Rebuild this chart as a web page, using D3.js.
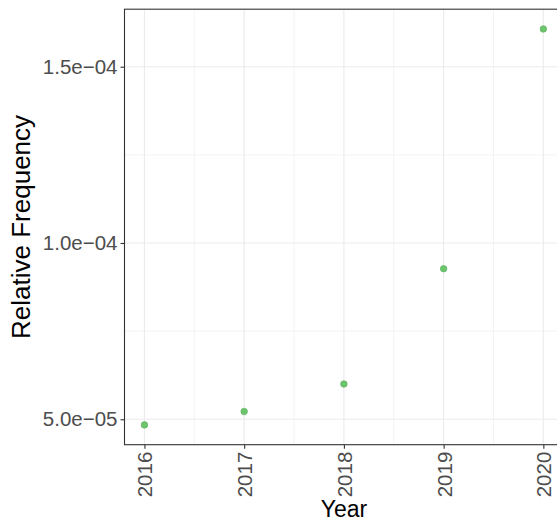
<!DOCTYPE html>
<html>
<head>
<meta charset="utf-8">
<script src="https://cdn.jsdelivr.net/npm/d3@7"></script>
<style>
  html, body { margin: 0; padding: 0; background: #fff; overflow: hidden; }
  svg { display: block; font-family: "Liberation Sans", Arial, sans-serif; }
</style>
</head>
<body>
<svg id="chart" width="557" height="522"></svg>
<script>
// Yearly relative frequency
const years = [2016, 2017, 2018, 2019, 2020];
const freq = [4.84e-5, 5.22e-5, 6.0e-5, 9.27e-5, 1.607e-4];
const yTicks = [5e-5, 1e-4, 1.5e-4];
const yMinor = [7.5e-5, 1.25e-4];
const xMinor = [2016.5, 2017.5, 2018.5, 2019.5];

const svg = d3.select("#chart");
const panel = { left: 124.5, top: 9.2, right: 563.3, bottom: 444.7 };

// ggplot-style expansion of the data range
const xPad = 0.2;
const x = d3.scaleLinear()
  .domain([d3.min(years) - xPad, d3.max(years) + xPad])
  .range([panel.left, panel.right]);
const [ymin, ymax] = d3.extent(freq);
const yPad = (ymax - ymin) * 0.05;
const y = d3.scaleLinear()
  .domain([ymin - yPad, ymax + yPad])
  .range([panel.bottom, panel.top]);

const fmt = v => v.toExponential(1).replace(/e([+-])(\d)$/, "e$10$2").replace("-", "\u2212");

// panel background
svg.append("rect")
  .attr("x", panel.left).attr("y", panel.top)
  .attr("width", panel.right - panel.left).attr("height", panel.bottom - panel.top)
  .attr("fill", "#fff");

const grid = svg.append("g");
// minor grid
grid.selectAll(".ymin").data(yMinor).join("line")
  .attr("x1", panel.left).attr("x2", panel.right)
  .attr("y1", d => y(d)).attr("y2", d => y(d))
  .attr("stroke", "#ebebeb").attr("stroke-width", 0.6);
grid.selectAll(".xmin").data(xMinor).join("line")
  .attr("y1", panel.top).attr("y2", panel.bottom)
  .attr("x1", d => x(d)).attr("x2", d => x(d))
  .attr("stroke", "#ebebeb").attr("stroke-width", 0.6);
// major grid
grid.selectAll(".ymaj").data(yTicks).join("line")
  .attr("x1", panel.left).attr("x2", panel.right)
  .attr("y1", d => y(d)).attr("y2", d => y(d))
  .attr("stroke", "#ebebeb").attr("stroke-width", 1.1);
grid.selectAll(".xmaj").data(years).join("line")
  .attr("y1", panel.top).attr("y2", panel.bottom)
  .attr("x1", d => x(d)).attr("x2", d => x(d))
  .attr("stroke", "#ebebeb").attr("stroke-width", 1.1);

// points
svg.append("g").selectAll("circle").data(years).join("circle")
  .attr("cx", d => x(d))
  .attr("cy", (d, i) => y(freq[i]))
  .attr("r", 3.3)
  .attr("fill", "#6cc46c")
  .attr("stroke", "#5cae5c")
  .attr("stroke-width", 0.6);

// panel border
svg.append("rect")
  .attr("x", panel.left).attr("y", panel.top)
  .attr("width", panel.right - panel.left).attr("height", panel.bottom - panel.top)
  .attr("fill", "none").attr("stroke", "#333").attr("stroke-width", 1.1);

// y axis
const yAxis = d3.axisLeft(y).tickValues(yTicks).tickFormat(fmt).tickSize(4).tickPadding(3);
const gy = svg.append("g").attr("transform", `translate(${panel.left},0)`).call(yAxis);
gy.select(".domain").remove();
gy.selectAll(".tick line").attr("stroke", "#333").attr("stroke-width", 1.1);
gy.selectAll(".tick text")
  .attr("fill", "#4d4d4d")
  .style("font-size", "20.5px")
  .style("font-family", "Liberation Sans, Arial, sans-serif");

// x axis
const xAxis = d3.axisBottom(x).tickValues(years).tickFormat(d3.format("d")).tickSize(4);
const gx = svg.append("g").attr("transform", `translate(0,${panel.bottom})`).call(xAxis);
gx.select(".domain").remove();
gx.selectAll(".tick line").attr("stroke", "#333").attr("stroke-width", 1.1);
gx.selectAll(".tick text")
  .attr("fill", "#4d4d4d")
  .style("font-size", "20.5px")
  .style("font-family", "Liberation Sans, Arial, sans-serif")
  .attr("transform", "rotate(-90)")
  .attr("text-anchor", "end")
  .attr("x", -7)
  .attr("y", 0)
  .attr("dy", "0.36em");

// axis titles
svg.append("text")
  .attr("x", x(2018)).attr("y", 517)
  .attr("text-anchor", "middle")
  .style("font-size", "23px")
  .attr("fill", "#000")
  .text("Year");

svg.append("text")
  .attr("transform", `translate(30,${(panel.top + panel.bottom) / 2}) rotate(-90)`)
  .attr("text-anchor", "middle")
  .style("font-size", "26px")
  .attr("fill", "#000")
  .text("Relative Frequency");
</script>
</body>
</html>
